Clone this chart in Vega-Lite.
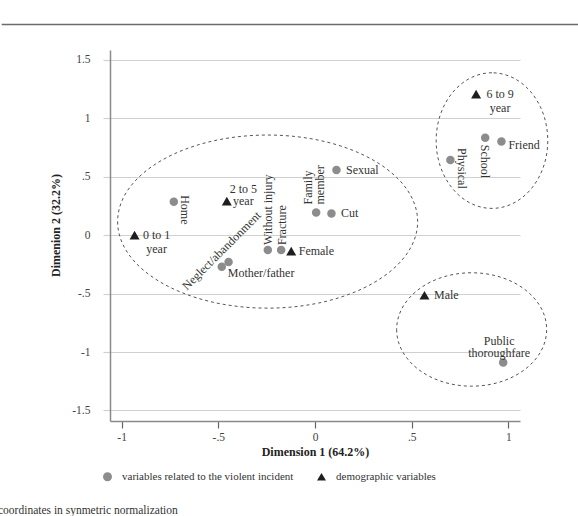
{
  "$schema": "https://vega.github.io/schema/vega-lite/v6.json",
  "width": 410,
  "height": 371,
  "autosize": {"type": "none"},
  "padding": {"left": 110, "top": 50, "right": 58, "bottom": 95},
  "background": "white",
  "config": {
    "view": {"stroke": null},
    "font": "Liberation Serif",
    "text": {"font": "Liberation Serif", "fontSize": 12, "color": "#333333", "lineBreak": "\n", "baseline": "middle"}
  },
  "title": {
    "text": "coordinates in synmetric normalization",
    "orient": "bottom",
    "anchor": "start",
    "frame": "group",
    "font": "Liberation Serif",
    "fontSize": 11.5,
    "fontWeight": "normal",
    "color": "#333333",
    "dx": -112,
    "offset": 23
  },
  "datasets": {
    "points": [
      {"label": "0 to 1\nyear", "type": "demographic variables", "x": -0.933, "y": 0.0},
      {"label": "2 to 5\nyear", "type": "demographic variables", "x": -0.456, "y": 0.291},
      {"label": "6 to 9\nyear", "type": "demographic variables", "x": 0.833, "y": 1.207},
      {"label": "Female", "type": "demographic variables", "x": -0.123, "y": -0.137},
      {"label": "Male", "type": "demographic variables", "x": 0.566, "y": -0.514},
      {"label": "Home", "type": "variables related to the violent incident", "x": -0.73, "y": 0.285},
      {"label": "Neglect/abandonment", "type": "variables related to the violent incident", "x": -0.447, "y": -0.229},
      {"label": "Mother/father", "type": "variables related to the violent incident", "x": -0.482, "y": -0.271},
      {"label": "Without injury", "type": "variables related to the violent incident", "x": -0.244, "y": -0.128},
      {"label": "Fracture", "type": "variables related to the violent incident", "x": -0.175, "y": -0.128},
      {"label": "Family\nmember", "type": "variables related to the violent incident", "x": 0.006, "y": 0.194},
      {"label": "Cut", "type": "variables related to the violent incident", "x": 0.085, "y": 0.186},
      {"label": "Sexual", "type": "variables related to the violent incident", "x": 0.111, "y": 0.557},
      {"label": "School", "type": "variables related to the violent incident", "x": 0.88, "y": 0.833},
      {"label": "Friend", "type": "variables related to the violent incident", "x": 0.964, "y": 0.802},
      {"label": "Physical", "type": "variables related to the violent incident", "x": 0.7, "y": 0.642},
      {"label": "Public\nthoroughfare", "type": "variables related to the violent incident", "x": 0.973, "y": -1.09}
    ],
    "clusters": [
      {"cluster": "left", "x": -0.245, "y": 0.116},
      {"cluster": "topright", "x": 0.915, "y": 0.809},
      {"cluster": "bottomright", "x": 0.81, "y": -0.807}
    ]
  },
  "layer": [
    {
      "encoding": {
        "x": {
          "field": "x",
          "type": "quantitative",
          "scale": {"domain": [-1.06, 1.06], "nice": false, "zero": false},
          "axis": {
            "title": "Dimension 1 (64.2%)",
            "values": [-1, -0.5, 0, 0.5, 1],
            "grid": false,
            "domainColor": "#8a8a8a",
            "domainWidth": 1.5,
            "tickColor": "#666666",
            "tickSize": 7,
            "tickWidth": 1.2,
            "labelPadding": 3,
            "labelFont": "Liberation Serif",
            "labelFontSize": 11.5,
            "labelColor": "#444444",
            "labelExpr": "datum.value == 0 ? '0' : (datum.value < 0 ? '-' : '') + replace(format(abs(datum.value), ''), '0.', '.')",
            "titleFont": "Liberation Serif",
            "titleFontSize": 12,
            "titleFontWeight": "bold",
            "titleColor": "#222222",
            "titleY": 30,
            "titleBaseline": "middle"
          }
        },
        "y": {
          "field": "y",
          "type": "quantitative",
          "scale": {"domain": [-1.59, 1.584], "nice": false, "zero": false},
          "axis": {
            "title": "Dimenion 2 (32.2%)",
            "values": [-1.5, -1, -0.5, 0, 0.5, 1, 1.5],
            "grid": true,
            "gridColor": "#d0d0d0",
            "gridWidth": 1.2,
            "domainColor": "#8a8a8a",
            "domainWidth": 1.5,
            "tickColor": "#d0d0d0",
            "tickSize": 7,
            "tickWidth": 1.2,
            "labelPadding": 13,
            "labelFont": "Liberation Serif",
            "labelFontSize": 11.5,
            "labelColor": "#444444",
            "labelExpr": "datum.value == 0 ? '0' : (datum.value < 0 ? '-' : '') + replace(format(abs(datum.value), ''), '0.', '.')",
            "titleFont": "Liberation Serif",
            "titleFontSize": 12,
            "titleFontWeight": "bold",
            "titleColor": "#222222",
            "titleX": -55,
            "titleY": 175,
            "titleAngle": -90,
            "titleAlign": "center",
            "titleBaseline": "middle"
          }
        }
      },
      "layer": [
        {
          "data": {"name": "clusters"},
          "transform": [{"filter": "datum.cluster == 'left'"}],
          "mark": {"type": "point", "shape": "M-1,0A1,0.577,0,1,0,1,0A1,0.577,0,1,0,-1,0Z", "size": 90000, "filled": false, "stroke": "#555555", "strokeWidth": 1, "strokeDash": [3, 3], "opacity": 1}
        },
        {
          "data": {"name": "clusters"},
          "transform": [{"filter": "datum.cluster == 'topright'"}],
          "mark": {"type": "point", "shape": "M0,-1A0.823,1,0,1,0,0,1A0.823,1,0,1,0,0,-1Z", "size": 18387, "filled": false, "stroke": "#555555", "strokeWidth": 1, "strokeDash": [3, 3], "opacity": 1}
        },
        {
          "data": {"name": "clusters"},
          "transform": [{"filter": "datum.cluster == 'bottomright'"}],
          "mark": {"type": "point", "shape": "M-1,0A1,0.756,0,1,0,1,0A1,0.756,0,1,0,-1,0Z", "size": 22500, "filled": false, "stroke": "#555555", "strokeWidth": 1, "strokeDash": [3, 3], "opacity": 1}
        },
        {
          "data": {"name": "points"},
          "transform": [{"filter": "datum.type == 'variables related to the violent incident'"}],
          "mark": {"type": "point", "filled": true, "opacity": 1, "size": 72},
          "encoding": {
            "shape": {
              "field": "type", "type": "nominal",
              "scale": {"domain": ["variables related to the violent incident", "demographic variables"], "range": ["circle", "triangle-up"]},
              "legend": {
                "orient": "none", "legendX": -8, "legendY": 421, "direction": "horizontal", "title": null,
                "labelFont": "Liberation Serif", "labelFontSize": 11, "labelColor": "#333333", "labelLimit": 400,
                "symbolSize": 80, "columnPadding": 22, "labelOffset": 9, "padding": 0, "symbolStrokeWidth": 0
              }
            },
            "color": {
              "field": "type", "type": "nominal",
              "scale": {"domain": ["variables related to the violent incident", "demographic variables"], "range": ["#8c8c8c", "#1e1e1e"]}
            }
          }
        },
        {
          "data": {"name": "points"},
          "transform": [{"filter": "datum.type == 'demographic variables'"}],
          "mark": {"type": "point", "filled": true, "opacity": 1, "size": 100},
          "encoding": {
            "shape": {"field": "type", "type": "nominal"},
            "color": {"field": "type", "type": "nominal"}
          }
        },
        {
          "data": {"name": "points"},
          "transform": [{"filter": {"field": "label", "oneOf": ["Sexual", "Cut", "Male"]}}],
          "mark": {"type": "text", "align": "left", "dx": 9.5},
          "encoding": {"text": {"field": "label"}}
        },
        {
          "data": {"name": "points"},
          "transform": [{"filter": {"field": "label", "oneOf": ["Female"]}}],
          "mark": {"type": "text", "align": "left", "dx": 7.5},
          "encoding": {"text": {"field": "label"}}
        },
        {
          "data": {"name": "points"},
          "transform": [{"filter": {"field": "label", "oneOf": ["Friend"]}}],
          "mark": {"type": "text", "align": "left", "dx": 7, "dy": 4},
          "encoding": {"text": {"field": "label"}}
        },
        {
          "data": {"name": "points"},
          "transform": [{"filter": {"field": "label", "oneOf": ["Mother/father"]}}],
          "mark": {"type": "text", "align": "left", "dx": 6, "dy": 6},
          "encoding": {"text": {"field": "label"}}
        },
        {
          "data": {"name": "points"},
          "transform": [{"filter": {"field": "label", "oneOf": ["0 to 1\nyear"]}}],
          "mark": {"type": "text", "align": "center", "dx": 22, "dy": 0, "lineHeight": 14},
          "encoding": {"text": {"field": "label"}}
        },
        {
          "data": {"name": "points"},
          "transform": [{"filter": {"field": "label", "oneOf": ["6 to 9\nyear"]}}],
          "mark": {"type": "text", "align": "center", "dx": 24, "dy": 0, "lineHeight": 14},
          "encoding": {"text": {"field": "label"}}
        },
        {
          "data": {"name": "points"},
          "transform": [{"filter": {"field": "label", "oneOf": ["2 to 5\nyear"]}}],
          "mark": {"type": "text", "align": "center", "dx": 16.5, "dy": -12.5, "lineHeight": 12.5},
          "encoding": {"text": {"field": "label"}}
        },
        {
          "data": {"name": "points"},
          "transform": [{"filter": {"field": "label", "oneOf": ["Public\nthoroughfare"]}}],
          "mark": {"type": "text", "align": "center", "dx": -4, "dy": -22, "lineHeight": 12},
          "encoding": {"text": {"field": "label"}}
        },
        {
          "data": {"name": "points"},
          "transform": [{"filter": {"field": "label", "oneOf": ["Home"]}}],
          "mark": {"type": "text", "align": "left", "angle": 90, "dx": -6.7, "dy": -10.7},
          "encoding": {"text": {"field": "label"}}
        },
        {
          "data": {"name": "points"},
          "transform": [{"filter": {"field": "label", "oneOf": ["School"]}}],
          "mark": {"type": "text", "align": "left", "angle": 90, "dx": 7, "dy": 0},
          "encoding": {"text": {"field": "label"}}
        },
        {
          "data": {"name": "points"},
          "transform": [{"filter": {"field": "label", "oneOf": ["Physical"]}}],
          "mark": {"type": "text", "align": "left", "angle": 90, "dx": -12, "dy": -12},
          "encoding": {"text": {"field": "label"}}
        },
        {
          "data": {"name": "points"},
          "transform": [{"filter": {"field": "label", "oneOf": ["Without injury", "Fracture"]}}],
          "mark": {"type": "text", "align": "left", "angle": 270, "dx": 5, "dy": 0.5},
          "encoding": {"text": {"field": "label"}}
        },
        {
          "data": {"name": "points"},
          "transform": [{"filter": {"field": "label", "oneOf": ["Family\nmember"]}}],
          "mark": {"type": "text", "align": "left", "angle": 270, "dx": 8, "dy": -8.5, "lineHeight": 12},
          "encoding": {"text": {"field": "label"}}
        },
        {
          "data": {"name": "points"},
          "transform": [{"filter": {"field": "label", "oneOf": ["Neglect/abandonment"]}}],
          "mark": {"type": "text", "align": "center", "angle": 315, "dx": 3, "dy": -13},
          "encoding": {"text": {"field": "label"}}
        }
      ]
    },
    {
      "data": {"values": [{"edge": "top"}]},
      "mark": {"type": "rule", "color": "#6b6b6b", "strokeWidth": 1.5, "clip": false},
      "encoding": {"x": {"datum": -1.62}, "x2": {"datum": 1.37}, "y": {"datum": 1.802}}
    }
  ]
}
